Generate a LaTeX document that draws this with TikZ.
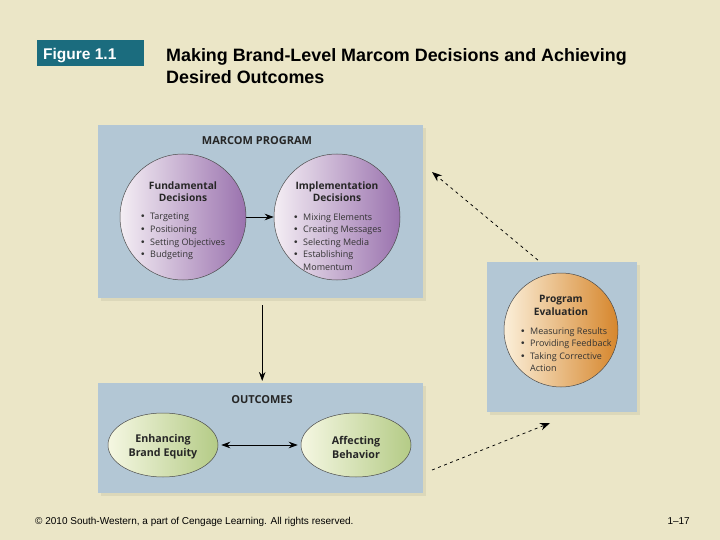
\documentclass[tikz,border=0pt]{standalone}
\usepackage{fontspec}
\setmainfont{Liberation Sans}
\newfontfamily\fr{Open Sans}
\newfontfamily\bulfont{Liberation Sans}
\usetikzlibrary{arrows.meta,shapes.geometric,shadows}
\definecolor{bg}{HTML}{EBE6C7}
\definecolor{figc}{HTML}{1B6C7E}
\definecolor{boxc}{HTML}{B3C7D5}
\definecolor{shadc}{HTML}{DCD8BA}
\definecolor{purL}{HTML}{F4EEF4}
\definecolor{purR}{HTML}{9A72AE}
\definecolor{orL}{HTML}{FBEFD9}
\definecolor{orR}{HTML}{D6862C}
\definecolor{grL}{HTML}{F5F7E2}
\definecolor{grR}{HTML}{B4CB86}
\newcommand{\bl}{\makebox[9pt][l]{{\bulfont\fontsize{10}{10}\selectfont\textbullet}}}
\newcommand{\nobl}{\hspace*{9pt}}
\tikzset{
  panel/.style={fill=boxc, inner sep=0pt, anchor=north west,
    drop shadow={shadow xshift=3pt, shadow yshift=-3pt, fill=shadc, opacity=1}},
  bubble/.style={circle, draw=black!70, line width=0.5pt, minimum size=126pt, inner sep=0pt},
  oval/.style={ellipse, draw=black!70, line width=0.5pt, minimum width=110pt, minimum height=64pt, inner sep=0pt,
    left color=grL, right color=grR},
  head/.style={font=\fr\bfseries\fontsize{10.2}{13}\selectfont, align=center, text=black!85, inner sep=0pt},
  caphead/.style={font=\fr\bfseries\fontsize{11}{13}\selectfont, text=black!85, inner sep=0pt},
  ohead/.style={font=\fr\bfseries\fontsize{10.7}{14}\selectfont, align=center, text=black!85, inner sep=0pt},
  lst/.style={font=\fr\fontsize{9}{12.6}\selectfont, align=left, anchor=north west, inner sep=0pt, text=black!80},
  arr/.style={-{Stealth[length=9pt,width=6.5pt]}, line width=0.8pt},
  darr/.style={-{Stealth[length=10pt,width=7.5pt]}, line width=0.75pt, dash pattern=on 3pt off 3.5pt}
}
\begin{document}
\begin{tikzpicture}[x=1pt,y=-1pt]
\fill[bg] (0,0) rectangle (720,540);
\useasboundingbox (0,0) rectangle (720,540);
% header
\node[fill=figc, minimum width=107pt, minimum height=26pt, inner sep=0pt, anchor=north west] (figbox) at (37,40) {};
\node[anchor=base west, text=white, font=\bfseries\fontsize{15.5}{16}\selectfont, inner sep=0pt] (figlab) at (43,59.5) {Figure 1.1};
\node[anchor=base west, font=\bfseries\fontsize{17.9}{22}\selectfont, inner sep=0pt, align=left] (title) at (166,62) {Making Brand-Level Marcom Decisions and Achieving};
\node[anchor=base west, font=\bfseries\fontsize{17.9}{22}\selectfont, inner sep=0pt, align=left] (title2) at (166,84) {Desired Outcomes};
% panels
\node[panel, minimum width=325pt, minimum height=173pt] (prog) at (98,125) {};
\node[panel, minimum width=150pt, minimum height=150pt] (evalbox) at (487,262) {};
\node[panel, minimum width=325pt, minimum height=110pt] (out) at (98,383) {};
% marcom program
\node[caphead, anchor=base] (mp) at (257,145) {MARCOM PROGRAM};
\node[bubble, left color=purL, right color=purR] (fund) at (183,217) {};
\node[bubble, left color=purL, right color=purR] (impl) at (337,217) {};
\node[head, anchor=base] (fundh) at (183,202) {Fundamental\\Decisions};
\node[lst] (fundl) at (141,213) {\bl Targeting\\\bl Positioning\\\bl Setting Objectives\\\bl Budgeting};
\node[head, anchor=base] (implh) at (337,202) {Implementation\\Decisions};
\node[lst] (impll) at (294,213) {\bl Mixing Elements\\\bl Creating Messages\\\bl Selecting Media\\\bl Establishing\\\nobl Momentum};
% evaluation
\node[bubble, minimum size=114pt, left color=orL, right color=orR] (eval) at (561,330) {};
\node[head, anchor=base] (evalh) at (561,315) {Program\\Evaluation};
\node[lst] (evall) at (521,327) {\bl Measuring Results\\\bl Providing Feedback\\\bl Taking Corrective\\\nobl Action};
% outcomes
\node[caphead, anchor=base] (oc) at (262,403) {OUTCOMES};
\node[oval] (enh) at (163,445) {};
\node[ohead] (enht) at (163,447) {Enhancing\\Brand Equity};
\node[oval] (aff) at (356,445) {};
\node[ohead] (afft) at (356,447) {Affecting\\Behavior};
% connectors
\draw[arr] (fund) -- (impl);
\draw[{Stealth[length=9pt,width=6.5pt]}-{Stealth[length=9pt,width=6.5pt]}, line width=0.8pt, shorten <=3pt, shorten >=3pt] (enh) -- (aff);
\draw[arr, shorten <=7pt, shorten >=2pt] ([xshift=1.5pt]prog.south) -- ([xshift=1.5pt]out.north);
\coordinate (d1) at (432,172);
\coordinate (d2) at (432,470);
\coordinate (d3) at (550,423);
\draw[darr, shorten <=3pt] ([xshift=-22pt]evalbox.north) -- (d1);
\draw[darr] (d2) -- (d3);
% footer
\node[anchor=base west, font=\fontsize{10}{12}\selectfont, inner sep=0pt] (foot) at (35,524) {© 2010 South-Western, a part of Cengage Learning. All rights reserved.};
\node[anchor=base east, font=\fontsize{10}{12}\selectfont, inner sep=0pt] (page) at (690,524) {1–17};
\end{tikzpicture}
\end{document}
